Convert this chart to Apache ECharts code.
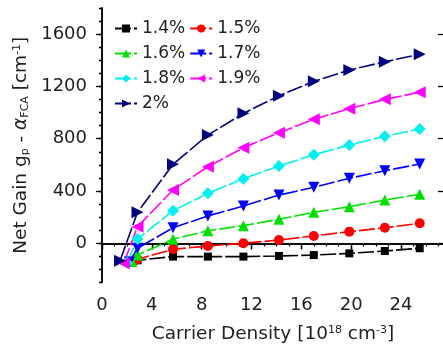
<!DOCTYPE html>
<html>
<head>
<meta charset="utf-8">
<script src="https://cdn.jsdelivr.net/npm/echarts@6/dist/echarts.min.js"></script>
<style>
  html, body { margin: 0; padding: 0; background: #fff; }
  #chart { width: 443px; height: 345px; }
</style>
</head>
<body>
<div id="chart"></div>
<script>
var names = ['1.4%', '1.5%', '1.6%', '1.7%', '1.8%', '1.9%', '2%'];
var densities = [2.85, 5.7, 8.5, 11.35, 14.2, 17.0, 19.85, 22.7, 25.5];
// first (transparency) point of each curve, then the common densities
var startX = [2.3, 2.55, 2.4, 2.2, 2.0, 1.75, 1.45];
var startY = [-145, -138, -140, -143, -148, -152, -133];
var gain14 = [-130, -102, -102, -102, -97, -90, -77, -59, -38];
var gain15 = [-122, -46, -21, 0, 25, 56, 89, 119, 153];
var gain16 = [-90, 31, 96, 135, 184, 237, 280, 331, 375];
var gain17 = [-38, 119, 209, 285, 369, 428, 497, 555, 606];
var gain18 = [33, 249, 382, 494, 591, 678, 752, 818, 874];
var gain19 = [127, 408, 586, 731, 846, 948, 1030, 1101, 1155];
var gain20 = [237, 604, 828, 994, 1129, 1239, 1325, 1389, 1446];
var xTicks = [0, 4, 8, 12, 16, 20, 24];
var yTicks = [0, 400, 800, 1200, 1600];

var gains = [gain14, gain15, gain16, gain17, gain18, gain19, gain20];
var colors = ['#000000', '#ff0000', '#00e000', '#0000ff', '#00f0f0', '#ff00ff', '#000080'];
var symbols = ['rect', 'circle', 'triangle', 'triangle', 'diamond', 'triangle', 'triangle'];
var rotates = [0, 0, 0, 180, 0, 90, -90];
var sizes = [8, 10, 11, 11, 12, 12, 12];

var font = 'DejaVu Sans';
var gridBox = { left: 102, right: -1, top: 8, bottom: 62.5, outerBoundsMode: 'none' };

var series = [];
for (var i = 0; i < names.length; i++) {
  var pts = [[startX[i], startY[i]]];
  for (var j = 0; j < densities.length; j++) {
    pts.push([densities[j], gains[i][j]]);
  }
  series.push({
    name: names[i],
    type: 'line',
    xAxisIndex: 0,
    yAxisIndex: 0,
    data: pts,
    symbol: symbols[i],
    symbolRotate: rotates[i],
    symbolSize: sizes[i],
    itemStyle: { color: colors[i] },
    lineStyle: { color: colors[i], width: 1.6, type: [16, 3] }
  });
}

function axisBase(inside, len) {
  return {
    axisLine: { show: true, lineStyle: { color: '#000', width: 1.5 } },
    axisTick: { show: true, inside: inside, length: len, lineStyle: { color: '#000', width: 1.3 } },
    splitLine: { show: false }
  };
}

var xMinor = { show: true, splitNumber: 4, length: 3, lineStyle: { color: '#000', width: 1.2 } };

var xBottom = Object.assign(axisBase(false, 6), {
  type: 'value', gridIndex: 0, position: 'bottom', min: 0, max: 27.45, interval: 4,
  minorTick: xMinor,
  axisLabel: {
    margin: 14, color: '#222', fontSize: 18, fontFamily: font,
    formatter: function (v) { return xTicks.indexOf(v) >= 0 ? String(v) : ''; }
  },
  name: 'Carrier Density [10{sup|18} cm{sup|-3}]',
  nameLocation: 'middle', nameGap: 42,
  nameTextStyle: {
    color: '#222', fontSize: 18.5, fontFamily: font,
    rich: { sup: { fontSize: 11, fontFamily: font, color: '#222', verticalAlign: 'top' } }
  }
});
var xTop = Object.assign(axisBase(true, 6), {
  type: 'value', gridIndex: 0, position: 'top', min: 0, max: 27.45, interval: 4,
  minorTick: xMinor,
  axisLabel: { show: false }
});
// short ticks every 100 on the main y axes
var yLeft = Object.assign(axisBase(false, 3), {
  type: 'value', gridIndex: 0, position: 'left', min: -300, max: 1800, interval: 100,
  axisLabel: {
    margin: 15, color: '#222', fontSize: 18, fontFamily: font,
    formatter: function (v) { return yTicks.indexOf(v) >= 0 ? String(v) : ''; }
  },
  name: 'Net Gain g{sub|p} - {al|α}{sub|FCA} [cm{sup|-1}]',
  nameLocation: 'middle', nameGap: 65, nameRotate: 90,
  nameTextStyle: {
    color: '#222', fontSize: 18.5, fontFamily: font,
    rich: {
      sub: { fontSize: 11, fontFamily: font, color: '#222', verticalAlign: 'bottom' },
      sup: { fontSize: 11, fontFamily: font, color: '#222', verticalAlign: 'top' },
      al: { fontSize: 18.5, fontFamily: font, fontStyle: 'italic', color: '#222' }
    }
  }
});
var yRight = Object.assign(axisBase(true, 3), {
  type: 'value', gridIndex: 0, position: 'right', min: -300, max: 1800, interval: 100,
  axisLabel: { show: false }
});
// long ticks at the labelled values, on a second grid laid over the first
var yLeftMajor = {
  type: 'value', gridIndex: 1, position: 'left', min: -300, max: 1800, interval: 100,
  splitLine: { show: false },
  axisLine: { show: false },
  axisTick: { show: true, inside: false, length: 6, customValues: yTicks, lineStyle: { color: '#000', width: 1.3 } },
  axisLabel: { show: false }
};
var yRightMajor = {
  type: 'value', gridIndex: 1, position: 'right', min: -300, max: 1800, interval: 100,
  splitLine: { show: false },
  axisLine: { show: false },
  axisTick: { show: true, inside: true, length: 6, customValues: yTicks, lineStyle: { color: '#000', width: 1.3 } },
  axisLabel: { show: false }
};
var xHidden = { type: 'value', gridIndex: 1, min: 0, max: 27.45, show: false };

var chart = echarts.init(document.getElementById('chart'), null, { renderer: 'canvas' });
chart.setOption({
  backgroundColor: '#fff',
  animation: false,
  grid: [gridBox, gridBox],
  legend: {
    data: names,
    left: 114, top: 18, width: 160, padding: 0,
    orient: 'horizontal',
    itemWidth: 22, itemHeight: 10, itemGap: 4,
    selectedMode: false,
    textStyle: { fontSize: 17, fontFamily: font, color: '#222', lineHeight: 21 }
  },
  xAxis: [xBottom, xTop, xHidden],
  yAxis: [yLeft, yRight, yLeftMajor, yRightMajor],
  series: series
});
</script>
</body>
</html>
